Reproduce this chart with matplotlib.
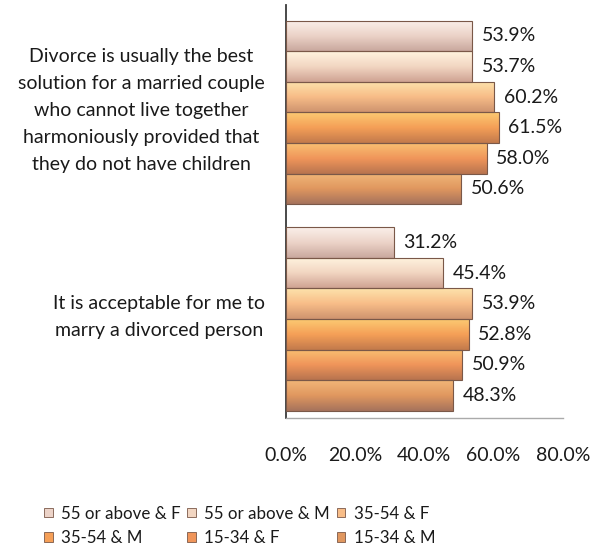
import numpy as np
import matplotlib
matplotlib.use("Agg")
import matplotlib.pyplot as plt
from matplotlib.colors import LinearSegmentedColormap
from matplotlib.patches import Rectangle
from matplotlib.transforms import ScaledTranslation

plt.rcParams['font.family'] = ['Lato', 'DejaVu Sans']

# survey statements (one bar group each) and respondent groups
statements = [
    "Divorce is usually the best\nsolution for a married couple\nwho cannot live together\n"
    "harmoniously provided that\nthey do not have children",
    "It is acceptable for me to\nmarry a divorced person",
]
groups = ["55 or above & F", "55 or above & M", "35-54 & F",
          "35-54 & M", "15-34 & F", "15-34 & M"]

# percent agreeing, per group, for each statement
divorce_best = [53.9, 53.7, 60.2, 61.5, 58.0, 50.6]
accept_divorced = [31.2, 45.4, 53.9, 52.8, 50.9, 48.3]
x_ticks = [0, 20, 40, 60, 80]

# light top -> base -> dark bottom shading for each group
shades = [
    ("#faf0ea", "#ecd3c8", "#c9a89e"),
    ("#fff4df", "#f2d6c2", "#cfa393"),
    ("#fde3ac", "#f8bd88", "#cf946f"),
    ("#fcca72", "#f59f57", "#c27a4c"),
    ("#f9c072", "#f0955a", "#b8744f"),
    ("#f1b678", "#e0975f", "#a6735c"),
]
edge_col = "#7a5848"
txt_col = "#1a1a1a"
fs = 14

values = np.array([divorce_best, accept_divorced])
n_grp = len(groups)
h = 0.148

fig = plt.figure(figsize=(5.93, 5.56), dpi=100)
ax = fig.add_axes([0.482, 0.248, 0.467, 0.743])

for ci in range(len(statements)):
    for gi in range(n_grp):
        y = ci + (gi - (n_grp - 1) / 2) * h
        w = values[ci, gi]
        bar = ax.barh(y, w, height=h, facecolor="none",
                      edgecolor=edge_col, linewidth=0.8, zorder=3)[0]
        cmap = LinearSegmentedColormap.from_list("g%d" % gi, shades[gi])
        grad = np.linspace(0, 1, 64).reshape(-1, 1)
        im = ax.imshow(grad, cmap=cmap, aspect="auto", origin="upper",
                       extent=(0, w, y + h / 2, y - h / 2), zorder=2)
        im.set_clip_path(bar)
        ax.annotate("%.1f%%" % w, xy=(w, y), xytext=(7, 0),
                    textcoords="offset points", va="center", ha="left",
                    fontsize=fs, color=txt_col)

ax.set_xlim(0, 80)
ax.set_ylim(1.48, -0.52)

ax.set_yticks(range(len(statements)))
ax.set_yticklabels(statements, multialignment="center", fontsize=fs,
                   color=txt_col, linespacing=1.72)
ax.tick_params(axis="y", length=0, pad=15)
# nudge the statement text up a little
lift = ScaledTranslation(0, 6 / 72, fig.dpi_scale_trans)
for lbl in ax.get_yticklabels():
    lbl.set_transform(lbl.get_transform() + lift)

ax.set_xticks(x_ticks)
ax.set_xticklabels(["%.1f%%" % t for t in x_ticks], fontsize=fs,
                   color=txt_col)
ax.tick_params(axis="x", length=0, pad=21)

for s in ("top", "right"):
    ax.spines[s].set_visible(False)
ax.spines["left"].set_color("#3a3a3a")
ax.spines["left"].set_linewidth(1.3)
ax.spines["bottom"].set_color("#aaaaaa")
ax.spines["bottom"].set_linewidth(1.0)

# legend laid out row by row (matplotlib fills columns first)
handles = [Rectangle((0, 0), 1, 1, facecolor=shades[i][1], edgecolor=edge_col,
                     linewidth=0.6) for i in range(n_grp)]
order = [0, 3, 1, 4, 2, 5]
fig.legend([handles[i] for i in order], [groups[i] for i in order],
           loc="upper left", bbox_to_anchor=(0.06, 0.106), ncol=3,
           frameon=False, fontsize=12.2, handlelength=0.5,
           handleheight=0.5, handletextpad=0.5, columnspacing=0.4,
           labelspacing=0.5, borderpad=0, labelcolor=txt_col)

fig.savefig("out.png", dpi=100)
